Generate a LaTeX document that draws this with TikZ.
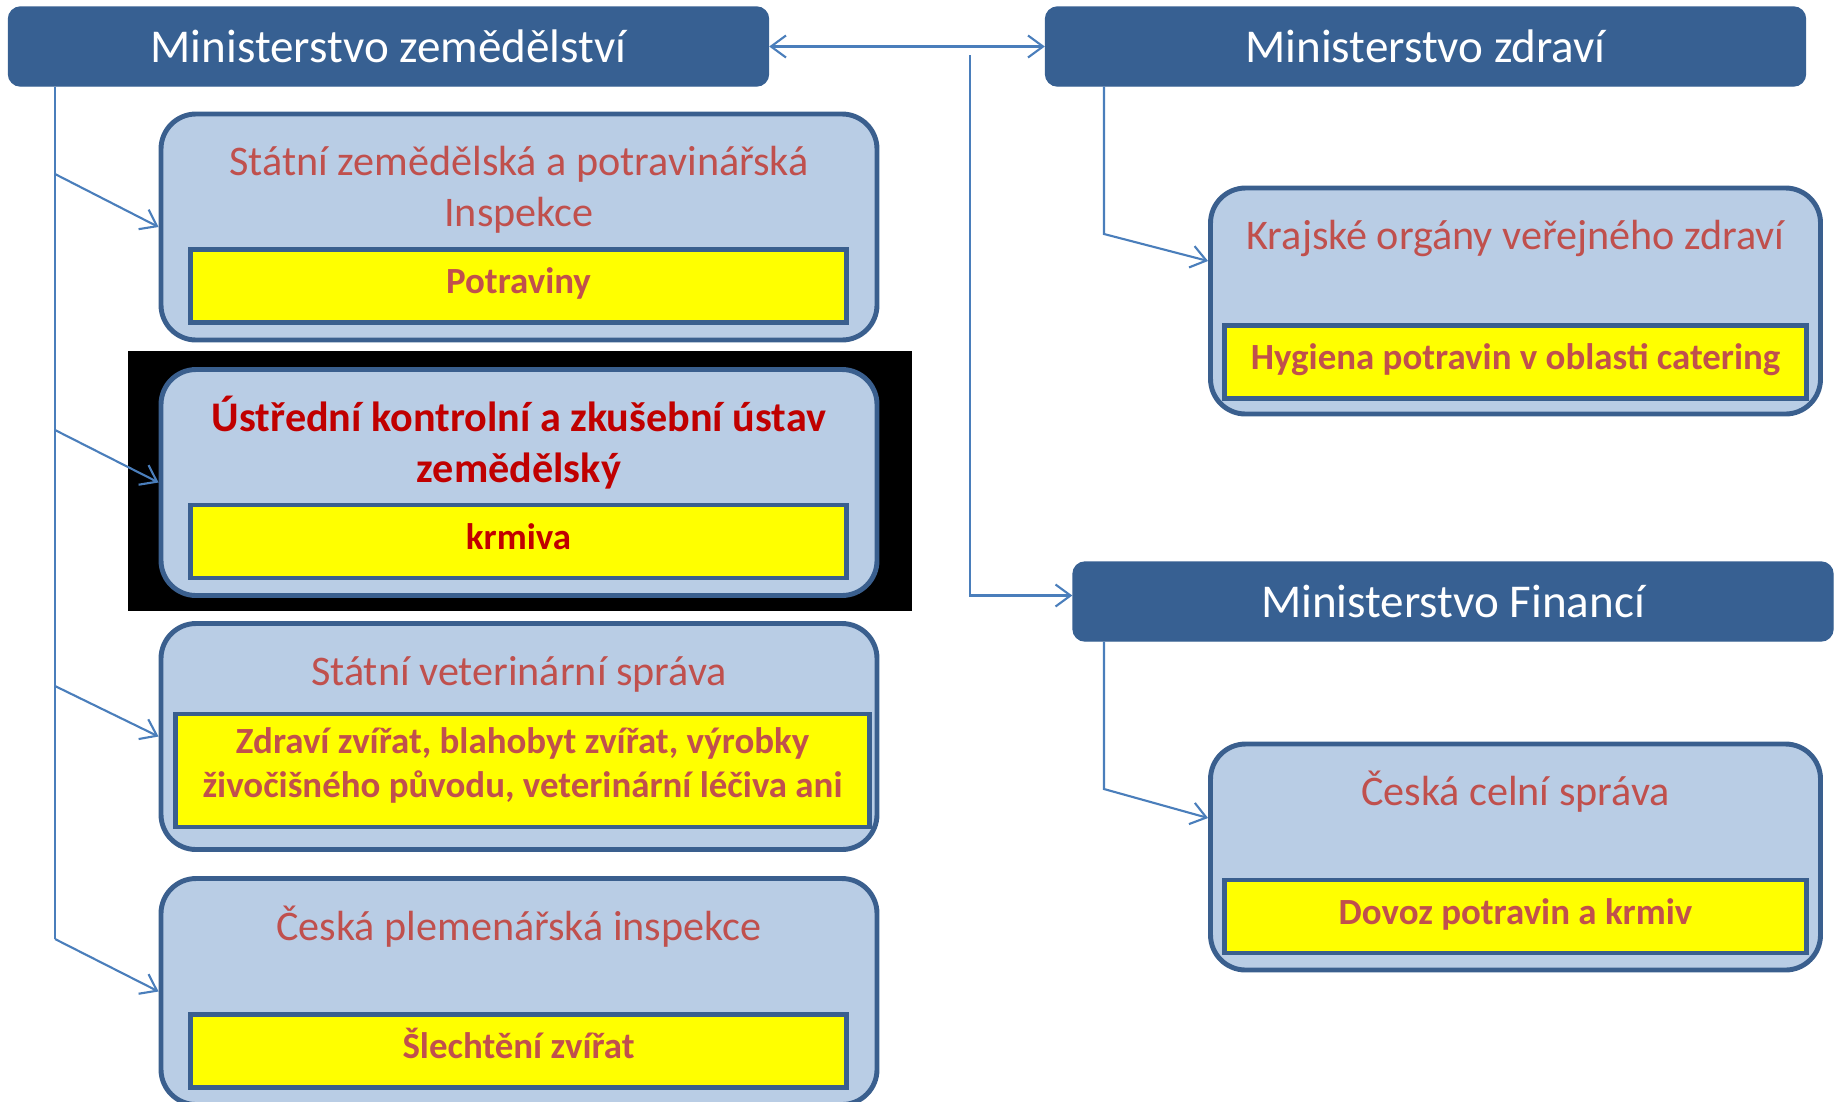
\documentclass[tikz,border=0pt]{standalone}
\usepackage{fontspec}
\setmainfont{Carlito}
\usetikzlibrary{arrows.meta, calc}

\definecolor{headblue}{HTML}{376092}
\definecolor{paleblue}{HTML}{B9CDE5}
\definecolor{edgeblue}{HTML}{3A5F8E}
\definecolor{linkblue}{HTML}{4A7EBB}
\definecolor{titlered}{HTML}{C0504D}
\definecolor{darkred}{HTML}{C00000}
\definecolor{dutyyellow}{HTML}{FFFF00}

\begin{document}
\begin{tikzpicture}[x=0.1mm, y=-0.1mm,
  head/.style={fill=headblue, draw=headblue, rounded corners=1.2mm, minimum width=76mm, minimum height=7.9mm, text=white, font=\fontsize{13.4}{16}\selectfont},
  office/.style={fill=paleblue, draw=edgeblue, line width=1.4pt, rounded corners=3.5mm, minimum width=71.6mm, minimum height=22.6mm},
  title/.style={text=titlered, align=center, font=\fontsize{12}{14.5}\selectfont},
  duty/.style={fill=dutyyellow, draw=edgeblue, line width=1.3pt, minimum width=65.6mm, minimum height=7.3mm, text height=7.4pt, text depth=3.1pt, text=titlered, align=center, font=\bfseries\fontsize{10.5}{12.5}\selectfont},
  link/.style={draw=linkblue, line width=0.6pt},
  arr/.style={link, -{Straight Barb[length=1.5mm, width=2.2mm]}},
  both/.style={link, {Straight Barb[length=1.5mm, width=2.2mm]}-{Straight Barb[length=1.5mm, width=2.2mm]}}]
\useasboundingbox (0,0) rectangle (1841,1101);

% ministries
\node (zem) at (388.5, 46.5) [head] {Ministerstvo zemědělství};
\node (zdr) at (1425.5, 46.5) [head] {Ministerstvo zdraví};
\node (fin) at (1453, 601.5) [head] {Ministerstvo Financí};

% left column
\fill[black] (128, 351) rectangle (912, 611);
\node (szpi) at (519, 227) [office] {};
\node (ukzuz) at (519, 482.5) [office] {};
\node (svs) at (519, 736.5) [office] {};
\node (cpi) at (519, 991.5) [office] {};

\node (szpi-t) at (519, 190) [title] {Státní zemědělská a potravinářská\\Inspekce};
\node (ukzuz-t) at (519, 442.5) [title, text=darkred, font=\bfseries\fontsize{12}{14.5}\selectfont] {Ústřední kontrolní a zkušební ústav\\zemědělský};
\node (svs-t) at (519, 674) [title] {Státní veterinární správa};
\node (cpi-t) at (519, 927) [title] {Česká plemenářská inspekce};

\node (szpi-d) at (518.5, 286) [duty] {Potraviny};
\node (ukzuz-d) at (518.5, 541.5) [duty, text=darkred] {krmiva};
\node (svs-d) at (522.5, 770.5) [duty, minimum width=69.4mm, minimum height=11.2mm, text height=20.4pt, text depth=5pt] {Zdraví zvířat, blahobyt zvířat, výrobky\\živočišného původu, veterinární léčiva ani};
\node (cpi-d) at (518.5, 1051) [duty] {Šlechtění zvířat};

% right column
\node (kraj) at (1515.5, 301) [office, minimum width=61mm] {};
\node (celni) at (1515.5, 857) [office, minimum width=61mm] {};
\node (kraj-t) at (1515.5, 238) [title] {Krajské orgány veřejného zdraví};
\node (celni-t) at (1515.5, 792) [title] {Česká celní správa};
\node (kraj-d) at (1515.5, 362) [duty, minimum width=58.2mm] {Hygiena potravin v oblasti catering};
\node (celni-d) at (1515.5, 916.5) [duty, minimum width=58.2mm] {Dovoz potravin a krmiv};

% connectors
\coordinate (zend) at (55, 939);
\draw[link] (zem.south -| zend) -- (zend);
\foreach \name/\y in {szpi/174, ukzuz/430, svs/686, cpi/939}
{
  \coordinate (fork-\name) at (55, \y);
  \draw[arr] (fork-\name) -- (\name.west);
}

\draw[both] (zem.east) -- (zdr.west);
\coordinate (fintop) at (970, 55);
\draw[arr] (fintop) |- ($(fin.west)+(0,-6)$);

\coordinate (krajbend) at (1104, 234);
\draw[arr] (zdr.south -| krajbend) -- (krajbend) -- ($(kraj.west)+(0,-40)$);
\coordinate (celnibend) at (1104, 789);
\draw[arr] (fin.south -| celnibend) -- (celnibend) -- ($(celni.west)+(0,-39)$);

\end{tikzpicture}
\end{document}
